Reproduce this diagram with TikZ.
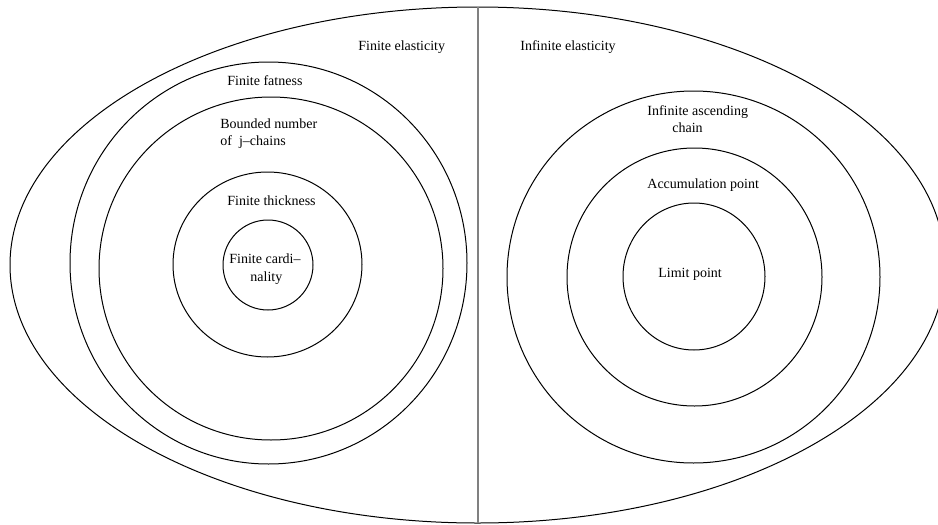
\documentclass[tikz,border=0pt]{standalone}
\usepackage{fontspec}
\setmainfont{Liberation Serif}
\begin{document}
\begin{tikzpicture}[x=0.5pt,y=-0.5pt,
  ell/.style={draw=black,line width=0.5pt},
  sep/.style={draw=black!50,line width=1pt},
  lbl/.style={anchor=base west,inner sep=0pt,font=\fontsize{7}{8.5}\selectfont}]
\useasboundingbox (0,0) rectangle (938,525);
\clip (0,0) rectangle (938,525);
% outer ellipse and separator
\draw[ell] (477.5,265) ellipse [x radius=467.5, y radius=258];
\coordinate (vtop) at (477.5,7);
\coordinate (vbot) at (477.5,523);
\draw[sep] (vtop) -- (vbot);
% left family
\draw[ell] (268.5,263) ellipse [x radius=198.5, y radius=201];
\draw[ell] (271,268.5) ellipse [x radius=172, y radius=171.5];
\draw[ell] (267.5,264.5) ellipse [x radius=94.5, y radius=92.5];
\draw[ell] (268,265) ellipse [x radius=45, y radius=45];
% right family
\draw[ell] (693.5,277) ellipse [x radius=186.5, y radius=186];
\draw[ell] (694.5,277) ellipse [x radius=127.5, y radius=129];
\draw[ell] (694,276.5) ellipse [x radius=71, y radius=73.5];
% labels
\node[lbl] (fe) at (358,50) {Finite elasticity};
\node[lbl] (ie) at (520,50) {Infinite elasticity};
\node[lbl] (ff) at (227,85) {Finite fatness};
\node[lbl] (bn1) at (220,128) {Bounded number};
\node[lbl] (bn2) at (220,145) {of~~j–chains};
\node[lbl] (ft) at (227,205) {Finite thickness};
\node[lbl] (fc1) at (229,263) {Finite cardi–};
\node[lbl] (fc2) at (250,281) {nality};
\node[lbl] (ia1) at (647,115) {Infinite ascending};
\node[lbl] (ia2) at (672,132) {chain};
\node[lbl] (ap) at (647,188) {Accumulation point};
\node[lbl] (lp) at (658,277) {Limit point};
\end{tikzpicture}
\end{document}
